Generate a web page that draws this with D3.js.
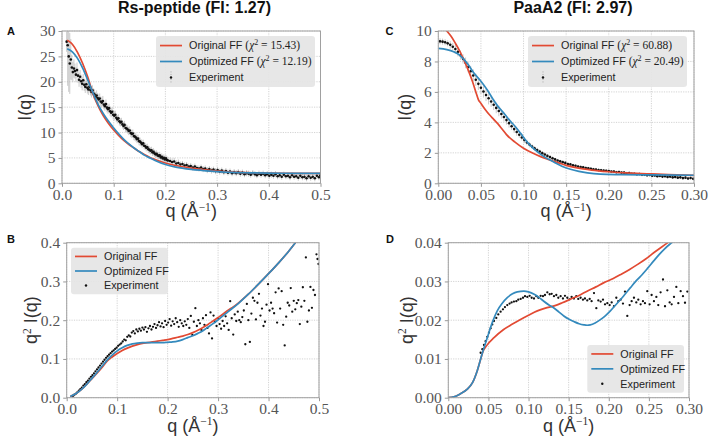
<!DOCTYPE html>
<html>
<head>
<meta charset="utf-8">
<script src="https://cdn.jsdelivr.net/npm/d3@7"></script>
<style>
body { margin: 0; background: #fff; }
</style>
</head>
<body>
<div id="app"></div>
<script>
// ---- DATA ----
var titles = ["Rs-peptide (FI: 1.27)", "PaaA2 (FI: 2.97)"];
var legendNames = ["Original FF", "Optimized FF", "Experiment"];
var chiA = ["15.43", "12.19"];
var chiC = ["60.88", "20.49"];

var ticksA_x = [0, 0.1, 0.2, 0.3, 0.4, 0.5];
var ticksA_y = [0, 5, 10, 15, 20, 25, 30];
var ticksB_y = [0, 0.1, 0.2, 0.3, 0.4];
var ticksC_x = [0, 0.05, 0.1, 0.15, 0.2, 0.25, 0.3];
var ticksC_y = [0, 2, 4, 6, 8, 10];
var ticksD_y = [0, 0.01, 0.02, 0.03, 0.04];

// A: I(q) Rs-peptide, [q, I, err]
var expA = [
[0.009,27.9,2],[0.011,27.2,8],[0.013,25.0,7],[0.015,23.6,6],[0.017,24.4,4],[0.019,22.8,2.5],
[0.021,21.9,2],[0.023,22.6,1.8],[0.025,22.1,1.5],[0.027,21.4,1.5],[0.029,22.3,1.5],[0.031,21.2,1.4],
[0.033,20.4,1.4],[0.035,21.0,1.3],[0.037,20.1,1.3],[0.039,19.6,1.3],[0.041,20.3,1.2],[0.043,19.4,1.2],
[0.045,19.0,1.2],[0.047,19.5,1.2],[0.049,18.8,1.1],[0.051,18.5,1.1],[0.053,19.0,1.1],[0.055,18.4,1.1],
[0.057,18.0,1.1],[0.059,18.3,1.0],[0.061,17.7,1.0],[0.063,17.5,1.0],[0.065,17.0,1.0],[0.067,17.3,1.0],
[0.069,16.8,1.0],[0.071,16.5,1.0],[0.073,16.7,1.0],[0.075,16.1,1.0],[0.077,15.9,1.0],[0.079,16.2,1.0],
[0.081,15.5,0.9],[0.083,15.2,0.9],[0.085,15.6,0.9],[0.087,14.9,0.9],[0.089,14.6,0.9],[0.091,14.8,0.9],
[0.093,14.2,0.9],[0.095,13.9,0.9],[0.097,14.1,0.9],[0.099,13.5,0.9],[0.101,13.3,0.9],[0.103,13.5,0.8],
[0.105,12.9,0.8],[0.107,12.6,0.8],[0.109,12.8,0.8],[0.111,12.2,0.8],[0.113,12.0,0.8],[0.115,12.1,0.8],
[0.117,11.6,0.8],[0.119,11.3,0.8],[0.121,11.5,0.8],[0.123,10.9,0.8],[0.125,10.8,0.8],[0.127,10.6,0.8],
[0.129,10.3,0.8],[0.131,10.4,0.8],[0.133,9.9,0.8],[0.135,9.7,0.8],[0.137,9.8,0.8],[0.139,9.3,0.8],
[0.141,9.2,0.8],[0.143,9.0,0.8],[0.145,8.7,0.8],[0.147,8.8,0.8],[0.149,8.3,0.8],[0.151,8.2,0.8],
[0.153,8.0,0.7],[0.155,7.7,0.7],[0.157,7.9,0.7],[0.159,7.4,0.7],[0.161,7.3,0.7],[0.163,7.0,0.7],
[0.165,7.1,0.7],[0.167,6.7,0.7],[0.169,6.6,0.7],[0.171,6.4,0.7],[0.173,6.5,0.7],[0.175,6.1,0.7],
[0.177,6.2,0.7],[0.179,5.9,0.7],[0.181,5.7,0.7],[0.183,5.8,0.7],[0.185,5.5,0.7],[0.187,5.4,0.7],
[0.189,5.5,0.7],[0.191,5.1,0.7],[0.193,5.2,0.7],[0.195,4.9,0.7],[0.197,5.0,0.7],[0.199,4.7,0.7],
[0.201,4.9,0.7],[0.203,4.6,0.7],[0.205,4.5,0.7],[0.209,4.4,0.7],[0.213,4.2,0.7],[0.217,4.3,0.7],
[0.221,3.9,0.7],[0.225,4.0,0.7],[0.229,3.7,0.6],[0.233,3.8,0.6],[0.237,3.5,0.6],[0.241,3.6,0.6],
[0.245,3.3,0.6],[0.249,3.4,0.6],[0.253,3.1,0.6],[0.257,3.3,0.6],[0.261,3.0,0.6],[0.265,2.9,0.6],
[0.269,3.1,0.6],[0.273,2.8,0.6],[0.277,2.9,0.6],[0.281,2.6,0.6],[0.285,2.8,0.6],[0.289,2.5,0.6],
[0.293,2.7,0.6],[0.297,2.4,0.6],[0.301,2.6,0.6],[0.305,2.3,0.6],[0.309,2.5,0.6],[0.313,2.2,0.6],
[0.317,2.4,0.6],[0.321,2.1,0.6],[0.325,2.3,0.6],[0.329,2.0,0.6],[0.333,2.2,0.6],[0.337,2.0,0.6],
[0.341,2.2,0.6],[0.345,1.9,0.6],[0.349,2.1,0.6],[0.353,1.8,0.6],[0.357,2.0,0.6],[0.361,1.9,0.6],
[0.365,1.7,0.6],[0.369,2.0,0.6],[0.373,1.8,0.6],[0.377,1.6,0.6],[0.381,1.9,0.6],[0.385,1.7,0.6],
[0.389,1.9,0.6],[0.393,1.6,0.6],[0.397,1.8,0.6],[0.401,1.5,0.6],[0.405,1.7,0.6],[0.409,1.5,0.6],
[0.413,1.8,0.6],[0.417,1.4,0.6],[0.421,1.6,0.6],[0.425,1.3,0.6],[0.429,1.7,0.6],[0.433,1.4,0.6],
[0.437,1.5,0.6],[0.441,1.2,0.6],[0.445,1.6,0.6],[0.449,1.3,0.6],[0.453,1.4,0.6],[0.457,1.1,0.6],
[0.461,1.5,0.6],[0.465,1.2,0.6],[0.469,1.3,0.6],[0.473,1.0,0.6],[0.477,1.4,0.6],[0.481,1.1,0.6],
[0.485,1.3,0.6],[0.489,1.0,0.6],[0.493,1.5,0.6],[0.497,1.2,0.6],[0.5,1.6,0.6]
];
var origA = [
[0.01,28.2],[0.02,27.4],[0.03,25.8],[0.04,23.6],[0.05,20.9],[0.06,17.6],[0.07,15.2],[0.08,13.3],
[0.09,11.8],[0.1,10.5],[0.11,9.4],[0.12,8.4],[0.13,7.6],[0.14,6.9],[0.15,6.2],[0.16,5.6],[0.17,5.1],
[0.18,4.7],[0.2,4.0],[0.22,3.5],[0.25,3.0],[0.27,2.75],[0.3,2.4],[0.33,2.2],[0.36,2.1],[0.4,2.0],
[0.45,1.97],[0.5,1.95]
];
var optA = [
[0.01,26.5],[0.02,25.9],[0.03,24.6],[0.04,22.7],[0.05,20.3],[0.06,17.8],[0.07,15.5],[0.08,13.7],
[0.09,12.2],[0.1,10.9],[0.11,9.7],[0.12,8.6],[0.13,7.7],[0.14,6.9],[0.15,6.2],[0.16,5.5],[0.17,5.0],
[0.18,4.5],[0.2,3.7],[0.22,3.2],[0.25,2.75],[0.27,2.55],[0.3,2.3],[0.33,2.15],[0.36,2.07],[0.4,2.0],
[0.45,1.97],[0.5,1.96]
];

// B: q^2 I(q) Rs-peptide, [q, value]
var expB = [
[0.012,0.004],[0.015,0.007],[0.018,0.010],[0.021,0.014],[0.024,0.018],[0.027,0.022],[0.030,0.026],
[0.033,0.031],[0.036,0.035],[0.039,0.040],[0.042,0.044],[0.045,0.049],[0.048,0.054],[0.051,0.058],
[0.054,0.063],[0.057,0.068],[0.060,0.073],[0.063,0.078],[0.066,0.083],[0.069,0.088],[0.072,0.093],
[0.075,0.098],[0.078,0.103],[0.081,0.107],[0.084,0.111],[0.087,0.115],[0.090,0.119],[0.093,0.122],
[0.096,0.126],[0.099,0.129],[0.102,0.134],[0.105,0.137],[0.108,0.140],[0.111,0.145],[0.114,0.150],
[0.117,0.148],[0.120,0.157],[0.123,0.161],[0.126,0.158],[0.129,0.168],[0.132,0.172],[0.135,0.166],
[0.138,0.176],[0.141,0.171],[0.144,0.178],[0.147,0.173],[0.150,0.181],[0.153,0.176],[0.156,0.182],
[0.159,0.170],[0.162,0.179],[0.165,0.185],[0.168,0.176],[0.171,0.183],[0.174,0.190],[0.177,0.180],
[0.180,0.187],[0.183,0.195],[0.186,0.184],[0.189,0.192],[0.192,0.182],[0.195,0.198],[0.198,0.188],
[0.201,0.194],[0.204,0.203],[0.207,0.186],[0.210,0.197],[0.213,0.190],[0.216,0.205],[0.219,0.195],
[0.222,0.183],[0.225,0.200],[0.228,0.192],[0.231,0.185],[0.234,0.197],[0.237,0.188],[0.240,0.203],
[0.243,0.180],[0.246,0.211],[0.249,0.162],[0.252,0.196],[0.255,0.231],[0.258,0.185],[0.261,0.200],
[0.264,0.192],[0.267,0.175],[0.270,0.205],[0.273,0.188],[0.276,0.213],[0.279,0.180],[0.282,0.166],
[0.285,0.220],[0.288,0.153],[0.291,0.212],[0.294,0.196],[0.297,0.185],[0.300,0.205],[0.303,0.190],
[0.306,0.178],[0.309,0.198],[0.312,0.185],[0.315,0.210],[0.318,0.192],[0.321,0.175],[0.324,0.249],
[0.327,0.205],[0.330,0.163],[0.333,0.215],[0.336,0.198],[0.339,0.222],[0.342,0.200],[0.345,0.195],
[0.348,0.208],[0.351,0.225],[0.354,0.138],[0.357,0.242],[0.360,0.200],[0.363,0.144],[0.366,0.217],
[0.369,0.258],[0.372,0.250],[0.375,0.202],[0.378,0.245],[0.381,0.268],[0.384,0.212],[0.387,0.230],
[0.390,0.185],[0.393,0.196],[0.396,0.240],[0.399,0.293],[0.402,0.225],[0.405,0.245],[0.408,0.230],
[0.411,0.218],[0.414,0.272],[0.417,0.194],[0.420,0.282],[0.423,0.230],[0.426,0.275],[0.429,0.188],
[0.432,0.135],[0.435,0.209],[0.438,0.245],[0.441,0.238],[0.444,0.283],[0.447,0.222],[0.450,0.250],
[0.453,0.228],[0.456,0.244],[0.459,0.252],[0.462,0.190],[0.465,0.235],[0.468,0.285],[0.471,0.250],
[0.474,0.362],[0.477,0.196],[0.480,0.225],[0.483,0.286],[0.486,0.232],[0.489,0.278],[0.492,0.265],
[0.495,0.370],[0.497,0.358],[0.499,0.345]
];
var origB = [
[0.007,0.003],[0.02,0.012],[0.03,0.022],[0.04,0.035],[0.05,0.049],[0.06,0.063],[0.07,0.078],
[0.08,0.094],[0.09,0.105],[0.1,0.114],[0.11,0.122],[0.12,0.128],[0.13,0.133],[0.14,0.137],
[0.15,0.140],[0.16,0.142],[0.17,0.144],[0.18,0.146],[0.19,0.148],[0.2,0.150],[0.21,0.153],
[0.22,0.156],[0.23,0.159],[0.24,0.163],[0.25,0.168],[0.26,0.174],[0.27,0.181],[0.28,0.189],
[0.29,0.198],[0.3,0.207],[0.31,0.216],[0.32,0.226],[0.33,0.234],[0.34,0.244],[0.36,0.267],
[0.38,0.293],[0.4,0.320],[0.42,0.348],[0.44,0.378],[0.455,0.403]
];
var optB = [
[0.007,0.003],[0.02,0.012],[0.03,0.022],[0.04,0.035],[0.05,0.050],[0.06,0.065],[0.07,0.081],
[0.08,0.097],[0.09,0.110],[0.1,0.121],[0.11,0.129],[0.12,0.135],[0.13,0.139],[0.14,0.141],
[0.15,0.142],[0.16,0.142],[0.17,0.142],[0.18,0.142],[0.19,0.142],[0.2,0.143],[0.21,0.144],
[0.22,0.146],[0.23,0.150],[0.24,0.155],[0.25,0.160],[0.26,0.166],[0.27,0.173],[0.28,0.182],
[0.29,0.191],[0.3,0.201],[0.32,0.222],[0.34,0.243],[0.36,0.267],[0.38,0.293],[0.4,0.320],
[0.42,0.348],[0.44,0.378],[0.455,0.403]
];

// C: I(q) PaaA2, [q, I, err]
var expC = [
[0.002,9.32,0.2],[0.005,9.30,0.2],[0.008,9.26,0.2],[0.011,9.19,0.2],[0.014,9.09,0.25],[0.017,8.97,0.25],
[0.020,8.82,0.3],[0.023,8.63,0.3],[0.026,8.41,0.3],[0.029,8.17,0.3],[0.032,7.91,0.35],[0.035,7.64,0.35],
[0.038,7.36,0.35],[0.041,7.08,0.4],[0.044,6.80,0.4],[0.047,6.53,0.4],[0.050,6.27,0.4],[0.053,6.03,0.4],
[0.056,5.80,0.4],[0.059,5.58,0.4],[0.062,5.37,0.35],[0.065,5.16,0.35],[0.068,4.95,0.35],[0.071,4.75,0.35],
[0.074,4.55,0.3],[0.077,4.35,0.3],[0.080,4.15,0.3],[0.083,3.95,0.3],[0.086,3.75,0.25],[0.089,3.56,0.25],
[0.092,3.37,0.25],[0.095,3.19,0.2],[0.098,3.01,0.2],[0.101,2.84,0.2],[0.104,2.68,0.18],[0.107,2.54,0.18],
[0.110,2.41,0.15],[0.113,2.29,0.15],[0.116,2.18,0.15],[0.119,2.08,0.13],[0.122,1.98,0.13],[0.125,1.89,0.13],
[0.128,1.80,0.12],[0.131,1.72,0.12],[0.134,1.64,0.12],[0.137,1.57,0.1],[0.140,1.50,0.1],[0.143,1.44,0.1],
[0.146,1.39,0.1],[0.149,1.34,0.1],[0.152,1.27,0.1],[0.155,1.24,0.1],[0.158,1.18,0.1],[0.161,1.15,0.1],
[0.164,1.10,0.1],[0.167,1.07,0.1],[0.170,1.05,0.1],[0.173,1.00,0.1],[0.176,0.98,0.1],[0.179,0.96,0.1],
[0.182,0.92,0.1],[0.185,0.91,0.1],[0.188,0.87,0.1],[0.191,0.86,0.1],[0.194,0.83,0.1],[0.197,0.82,0.1],
[0.200,0.80,0.1],[0.203,0.77,0.1],[0.206,0.77,0.1],[0.209,0.73,0.1],[0.212,0.74,0.1],[0.215,0.70,0.1],
[0.218,0.70,0.1],[0.221,0.66,0.1],[0.224,0.67,0.1],[0.227,0.63,0.1],[0.230,0.63,0.1],[0.233,0.59,0.1],
[0.236,0.61,0.1],[0.239,0.56,0.1],[0.242,0.57,0.1],[0.245,0.53,0.1],[0.248,0.55,0.1],[0.251,0.50,0.1],
[0.254,0.52,0.1],[0.257,0.47,0.1],[0.260,0.49,0.1],[0.263,0.44,0.1],[0.266,0.47,0.1],[0.269,0.42,0.1],
[0.272,0.44,0.1],[0.275,0.39,0.1],[0.278,0.42,0.1],[0.281,0.37,0.1],[0.284,0.39,0.1],[0.287,0.34,0.1],
[0.290,0.37,0.1],[0.293,0.32,0.1],[0.296,0.35,0.1],[0.299,0.30,0.1]
];
var origC = [
[0,10.5],[0.005,10.3],[0.01,10.0],[0.015,9.65],[0.02,9.2],[0.025,8.7],[0.03,8.1],[0.035,7.45],
[0.04,6.7],[0.044,6.0],[0.047,5.5],[0.05,5.25],[0.055,4.85],[0.06,4.5],[0.065,4.2],[0.07,3.9],
[0.075,3.55],[0.08,3.2],[0.09,2.7],[0.1,2.3],[0.11,2.0],[0.12,1.75],[0.13,1.55],[0.14,1.36],
[0.15,1.18],[0.16,1.05],[0.17,0.95],[0.18,0.87],[0.2,0.76],[0.22,0.68],[0.25,0.62],[0.27,0.57],
[0.3,0.52]
];
var optC = [
[0,8.86],[0.01,8.78],[0.018,8.64],[0.025,8.42],[0.03,8.14],[0.035,7.8],[0.042,7.22],[0.05,6.7],
[0.0575,6.13],[0.065,5.45],[0.07,5.05],[0.077,4.6],[0.085,4.05],[0.09,3.75],[0.0966,3.28],
[0.104,2.73],[0.11,2.38],[0.116,2.08],[0.125,1.72],[0.136,1.38],[0.145,1.12],[0.155,0.92],
[0.165,0.78],[0.175,0.68],[0.19,0.6],[0.214,0.57],[0.25,0.55],[0.3,0.53]
];

// D: q^2 I(q) PaaA2, [q, value]
var expD = [
[0.0403,0.0116],[0.0424,0.0125],[0.0445,0.0136],[0.0465,0.0146],[0.0486,0.0157],[0.0507,0.0168],
[0.0528,0.0179],[0.0548,0.0189],[0.0569,0.0198],[0.0598,0.0206],[0.0623,0.0215],[0.0652,0.0222],
[0.0681,0.0228],[0.0706,0.0234],[0.0735,0.0239],[0.0764,0.0243],[0.0789,0.0246],[0.0818,0.0248],
[0.0848,0.0249],[0.0872,0.0253],[0.0902,0.0255],[0.0931,0.0258],[0.0956,0.0262],[0.0985,0.0260],
[0.1014,0.0263],[0.1039,0.0258],[0.1068,0.0256],[0.1097,0.0262],[0.1122,0.0258],[0.1151,0.0263],
[0.118,0.0262],[0.1205,0.0265],[0.1234,0.0272],[0.1263,0.0267],[0.1288,0.0268],[0.1317,0.0262],
[0.1346,0.0265],[0.1371,0.0258],[0.14,0.0262],[0.1429,0.0256],[0.1454,0.0263],[0.1483,0.0258],
[0.1512,0.0254],[0.1537,0.0260],[0.1566,0.0256],[0.1595,0.0262],[0.162,0.0255],[0.1649,0.0258],
[0.1678,0.0253],[0.1703,0.0256],[0.1732,0.0251],[0.1762,0.0255],[0.1786,0.0249],[0.1816,0.0270],
[0.1845,0.0231],[0.187,0.0251],[0.1899,0.0248],[0.1928,0.0253],[0.1953,0.0241],[0.1982,0.0244],
[0.2011,0.0239],[0.2036,0.0246],[0.2065,0.0236],[0.2094,0.0258],[0.2119,0.0249],[0.2148,0.0253],
[0.2177,0.0243],[0.2202,0.0274],[0.2231,0.0211],[0.226,0.0239],[0.2285,0.0249],[0.2314,0.0258],
[0.2343,0.0246],[0.2368,0.0253],[0.2397,0.0241],[0.2426,0.0249],[0.2451,0.0244],[0.248,0.0275],
[0.2509,0.0241],[0.2534,0.0265],[0.2563,0.0249],[0.2593,0.0260],[0.2617,0.0239],[0.2646,0.0272],
[0.2676,0.0305],[0.2701,0.0236],[0.273,0.0277],[0.2759,0.0246],[0.2784,0.0241],[0.2813,0.0260],
[0.2842,0.0286],[0.2867,0.0244],[0.2896,0.0275],[0.2925,0.0262],[0.295,0.0245],[0.2979,0.0274]
];
var origD = [
[0,0],[0.007,0.0002],[0.015,0.001],[0.0237,0.0022],[0.03,0.0038],[0.036,0.0069],[0.04,0.0097],
[0.043,0.0118],[0.048,0.0135],[0.057,0.0155],[0.069,0.0176],[0.08,0.019],[0.09,0.0202],[0.1,0.0213],
[0.111,0.0224],[0.121,0.0231],[0.132,0.0237],[0.142,0.0245],[0.152,0.0254],[0.163,0.0264],
[0.173,0.0275],[0.184,0.0286],[0.194,0.0297],[0.205,0.0307],[0.215,0.0318],[0.226,0.0331],
[0.236,0.0344],[0.246,0.0358],[0.256,0.0374],[0.266,0.0389],[0.275,0.0402]
];
var optD = [
[0,0],[0.007,0.0002],[0.015,0.001],[0.0237,0.0022],[0.03,0.0038],[0.036,0.0069],[0.042,0.0112],
[0.0486,0.0155],[0.055,0.0195],[0.061,0.0224],[0.067,0.0243],[0.0735,0.0258],[0.08,0.0268],
[0.086,0.0273],[0.0943,0.0275],[0.1,0.0273],[0.107,0.0267],[0.113,0.0259],[0.119,0.0249],
[0.125,0.024],[0.132,0.0231],[0.138,0.0221],[0.144,0.0211],[0.15,0.0203],[0.157,0.0196],
[0.163,0.0191],[0.169,0.0188],[0.173,0.0187],[0.177,0.0188],[0.183,0.0193],[0.19,0.0202],
[0.196,0.0212],[0.202,0.0224],[0.208,0.0238],[0.215,0.0254],[0.221,0.0269],[0.227,0.0284],
[0.233,0.0299],[0.24,0.0314],[0.248,0.0333],[0.256,0.0353],[0.263,0.037],[0.269,0.0383],
[0.276,0.0396],[0.282,0.0405]
];

// ---- LAYOUT ----
var W = 708, H = 442;
var red = "#e24a33", blue = "#348abd";
var sans = "'Liberation Sans', Arial, sans-serif";
var serif = "'Liberation Serif', 'Times New Roman', serif";

var svg = d3.select("#app")
    .append("svg")
    .attr("width", W)
    .attr("height", H)
    .style("font-family", sans);

var panels = [
    { id: "A", left: 62, right: 320.5, top: 31, bottom: 183.3,
      xDomain: [0, 0.5], yDomain: [0, 30], xTicks: ticksA_x, yTicks: ticksA_y,
      xFmt: ".1f", yFmt: "d", ylab: "I", exp: expA, orig: origA, opt: optA, err: true,
      lab: [7, 35], ylx: 30.5, legend: { x: 156, y: 36, w: 159, h: 51, chi: chiA } },
    { id: "C", left: 438.3, right: 694, top: 31, bottom: 183.3,
      xDomain: [0, 0.3], yDomain: [0, 10], xTicks: ticksC_x, yTicks: ticksC_y,
      xFmt: ".2f", yFmt: "d", ylab: "I", exp: expC, orig: origC, opt: optC, err: true,
      lab: [385.5, 35], ylx: 411, legend: { x: 528, y: 36, w: 159, h: 51, chi: chiC } },
    { id: "B", left: 66.7, right: 319, top: 242.7, bottom: 397.7,
      xDomain: [0, 0.5], yDomain: [0, 0.4], xTicks: ticksA_x, yTicks: ticksB_y,
      xFmt: ".1f", yFmt: ".1f", ylab: "q2", exp: expB, orig: origB, opt: optB, err: false,
      lab: [7, 242.5], ylx: 37, legend: { x: 71, y: 247.7, w: 97, h: 46.6 } },
    { id: "D", left: 448.3, right: 689, top: 242.7, bottom: 397.7,
      xDomain: [0, 0.3], yDomain: [0, 0.04], xTicks: ticksC_x, yTicks: ticksD_y,
      xFmt: ".2f", yFmt: ".2f", ylab: "q2", exp: expD, orig: origD, opt: optD, err: false,
      lab: [386, 242.5], ylx: 412.5, legend: { x: 587.3, y: 345, w: 96.7, h: 47.7 } }
];

panels.forEach(drawPanel);

// titles
svg.selectAll(".title")
    .data(titles)
    .enter()
    .append("text")
    .attr("class", "title")
    .attr("x", function (d, i) { return i === 0 ? 194.5 : 573; })
    .attr("y", 13)
    .attr("text-anchor", "middle")
    .style("font-size", "16px")
    .style("font-weight", "bold")
    .style("fill", "#111")
    .text(function (d) { return d; });

function drawPanel(p) {
    var x = d3.scaleLinear().domain(p.xDomain).range([p.left, p.right]);
    var y = d3.scaleLinear().domain(p.yDomain).range([p.bottom, p.top]);
    var g = svg.append("g");

    svg.append("clipPath").attr("id", "clip" + p.id)
        .append("rect")
        .attr("x", p.left).attr("y", p.top)
        .attr("width", p.right - p.left).attr("height", p.bottom - p.top);

    // grid
    g.selectAll(".vg").data(p.xTicks).enter().append("line")
        .attr("x1", function (d) { return x(d); }).attr("x2", function (d) { return x(d); })
        .attr("y1", p.top).attr("y2", p.bottom)
        .style("stroke", "#c8c8c8").style("stroke-width", 0.8).style("stroke-dasharray", "1.2,1.2");
    g.selectAll(".hg").data(p.yTicks).enter().append("line")
        .attr("y1", function (d) { return y(d); }).attr("y2", function (d) { return y(d); })
        .attr("x1", p.left).attr("x2", p.right)
        .style("stroke", "#c8c8c8").style("stroke-width", 0.8).style("stroke-dasharray", "1.2,1.2");

    var plot = g.append("g").attr("clip-path", "url(#clip" + p.id + ")");

    // error bars
    if (p.err) {
        plot.selectAll(".eb").data(p.exp).enter().append("line")
            .attr("x1", function (d) { return x(d[0]); }).attr("x2", function (d) { return x(d[0]); })
            .attr("y1", function (d) { return y(d[1] - d[2]); })
            .attr("y2", function (d) { return y(d[1] + d[2]); })
            .style("stroke", "#b5b5b5").style("stroke-width", 0.7);
    }

    // experiment points
    plot.selectAll(".pt").data(p.exp).enter().append("circle")
        .attr("cx", function (d) { return x(d[0]); })
        .attr("cy", function (d) { return y(d[1]); })
        .attr("r", p.err ? 1.3 : 1.15)
        .style("fill", "#111");

    // model curves
    var line = d3.line()
        .x(function (d) { return x(d[0]); })
        .y(function (d) { return y(d[1]); })
        .curve(d3.curveMonotoneX);
    plot.append("path").datum(p.orig).attr("d", line)
        .style("fill", "none").style("stroke", red).style("stroke-width", 1.7);
    plot.append("path").datum(p.opt).attr("d", line)
        .style("fill", "none").style("stroke", blue).style("stroke-width", 1.7);

    // frame
    g.append("rect")
        .attr("x", p.left).attr("y", p.top)
        .attr("width", p.right - p.left).attr("height", p.bottom - p.top)
        .style("fill", "none").style("stroke", "#a0a0a0").style("stroke-width", 1);

    // axes
    var gx = g.append("g").attr("transform", "translate(0," + p.bottom + ")")
        .call(d3.axisBottom(x).tickValues(p.xTicks).tickFormat(d3.format(p.xFmt))
            .tickSize(3.5).tickSizeOuter(0).tickPadding(2));
    var gy = g.append("g").attr("transform", "translate(" + p.left + ",0)")
        .call(d3.axisLeft(y).tickValues(p.yTicks).tickFormat(d3.format(p.yFmt))
            .tickSize(3.5).tickSizeOuter(0).tickPadding(3));
    [gx, gy].forEach(function (a) {
        a.select(".domain").remove();
        a.selectAll("line").style("stroke", "#999");
        a.selectAll("text").style("font-family", serif).style("font-size", "15.5px").style("fill", "#555");
    });

    // axis labels
    var xl = g.append("text")
        .attr("x", (p.left + p.right) / 2).attr("y", p.bottom + 34)
        .attr("text-anchor", "middle")
        .style("font-size", "18px").style("fill", "#333");
    xl.append("tspan").text("q (Å");
    xl.append("tspan").attr("dy", -6.5).style("font-size", "11.5px").style("font-family", serif).text("−1");
    xl.append("tspan").attr("dy", 6.5).text(")");

    var yl = g.append("text")
        .attr("transform", "translate(" + p.ylx + "," + ((p.top + p.bottom) / 2) + ") rotate(-90)")
        .attr("text-anchor", "middle")
        .style("font-size", "18px").style("fill", "#333");
    if (p.ylab === "q2") {
        yl.append("tspan").text("q");
        yl.append("tspan").attr("dy", -6.5).style("font-size", "11.5px").style("font-family", serif).text("2");
        yl.append("tspan").attr("dy", 6.5).text(" I(q)");
    } else {
        yl.text("I(q)");
    }

    // panel letter
    g.append("text").attr("x", p.lab[0]).attr("y", p.lab[1])
        .style("font-size", "11px").style("font-weight", "bold").style("fill", "#111")
        .text(p.id);

    drawLegend(g, p);
}

function drawLegend(g, p) {
    var L = p.legend;
    var lg = g.append("g");
    lg.append("rect")
        .attr("x", L.x).attr("y", L.y).attr("width", L.w).attr("height", L.h)
        .attr("rx", 3)
        .style("fill", "#e5e5e5").style("fill-opacity", 0.92);
    var rowH = L.h / 3.2;
    var colors = [red, blue];
    legendNames.forEach(function (name, i) {
        var cy = L.y + rowH * (i + 0.6);
        var x0 = L.x + 4, x1 = L.x + 26;
        if (i < 2) {
            lg.append("line").attr("x1", x0).attr("x2", x1).attr("y1", cy).attr("y2", cy)
                .style("stroke", colors[i]).style("stroke-width", 1.7);
        } else {
            if (p.err) {
                lg.append("line").attr("x1", (x0 + x1) / 2).attr("x2", (x0 + x1) / 2)
                    .attr("y1", cy - 6).attr("y2", cy + 6)
                    .style("stroke", "#999").style("stroke-width", 0.8).style("stroke-dasharray", "1,1.5");
            }
            lg.append("circle").attr("cx", (x0 + x1) / 2).attr("cy", cy).attr("r", 1.2).style("fill", "#111");
        }
        var t = lg.append("text").attr("x", L.x + 33).attr("y", cy + 3.8)
            .style("font-size", "10.8px").style("fill", "#222");
        t.append("tspan").text(name);
        if (L.chi && i < 2) {
            var s = t.append("tspan").style("font-family", serif).style("font-size", "11.5px");
            s.append("tspan").text(" (");
            s.append("tspan").style("font-style", "italic").text("χ");
            s.append("tspan").attr("dy", -4).style("font-size", "8px").text("2");
            s.append("tspan").attr("dy", 4).text(" = " + L.chi[i] + ")");
        }
    });
}
</script>
</body>
</html>
